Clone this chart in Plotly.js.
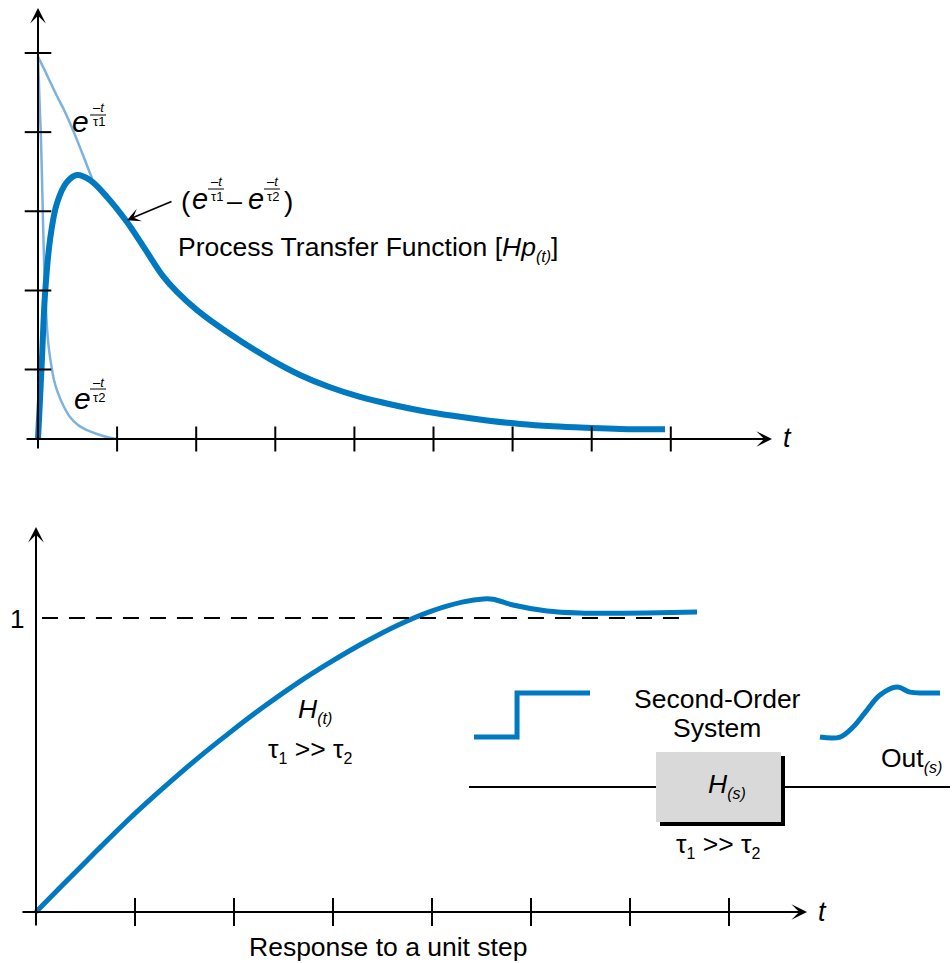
<!DOCTYPE html>
<html><head><meta charset="utf-8">
<script src="https://cdn.plot.ly/plotly-3.0.1.min.js"></script>
<style>body{margin:0;background:#fff}#chart{width:952px;height:963px}</style>
</head><body><div id="chart"></div>
<script>
// ---------- Top panel: process transfer function (x in tick units, y: top tick = 1) ----------
const hpT = [0, 0.025, 0.051, 0.088, 0.152, 0.240, 0.367, 0.493, 0.657, 0.872, 1.125, 1.378, 1.580, 1.757, 2.010, 2.427, 2.933, 3.312, 3.692, 4.071, 4.450, 4.829, 5.247, 5.676, 6.094, 6.511, 6.941, 7.358, 7.927];
const hpY = [0, 0.101, 0.212, 0.373, 0.516, 0.611, 0.666, 0.684, 0.671, 0.627, 0.562, 0.484, 0.422, 0.381, 0.334, 0.272, 0.207, 0.166, 0.134, 0.109, 0.090, 0.074, 0.060, 0.048, 0.039, 0.033, 0.029, 0.026, 0.025];
const e1T = [0, 0.076, 0.152, 0.228, 0.316, 0.405, 0.493, 0.594, 0.683];
const e1Y = [0.990, 0.959, 0.926, 0.893, 0.858, 0.818, 0.775, 0.722, 0.675];
const e2T = [0, 0.019, 0.038, 0.057, 0.076, 0.101, 0.126, 0.152, 0.202, 0.253, 0.329, 0.405, 0.506, 0.619, 0.746, 0.910, 0.999];
const e2Y = [0.990, 0.876, 0.775, 0.619, 0.463, 0.334, 0.256, 0.212, 0.153, 0.119, 0.083, 0.057, 0.036, 0.023, 0.013, 0.003, 0];
const topTicksX = [1, 2, 3, 4, 5, 6, 7, 8];
const topTicksY = [0.18, 0.385, 0.59, 0.795, 1.0];

// ---------- Bottom panel: response to a unit step ----------
const stepT = [0, 0.276, 0.613, 0.949, 1.286, 1.623, 1.960, 2.296, 2.633, 2.970, 3.306, 3.643, 3.980, 4.316, 4.518, 4.616, 4.818, 5.162, 5.495, 5.828, 6.172, 6.677];
const stepY = [0, 0.094, 0.208, 0.319, 0.422, 0.520, 0.611, 0.697, 0.777, 0.849, 0.915, 0.974, 1.022, 1.055, 1.065, 1.064, 1.044, 1.024, 1.017, 1.016, 1.017, 1.020];
const botTicksX = [1, 2, 3, 4, 5, 6, 7];
const setpoint = 1;
const inputT = [4.424, 4.859, 4.859, 5.596];
const inputY = [0.595, 0.595, 0.745, 0.745];
const outT = [7.919, 8.121, 8.253, 8.394, 8.525, 8.697, 8.828, 8.960, 9.131];
const outY = [0.595, 0.595, 0.629, 0.687, 0.738, 0.765, 0.748, 0.745, 0.745];

const BLUE = '#0079c1', LIGHT = '#7db2de';
const FONT = 'Liberation Sans, Arial, sans-serif';
const W = 952, H = 963;
const PX = x => x / W, PY = y => 1 - y / H;

const traces = [
  {x: e1T, y: e1Y, xaxis: 'x', yaxis: 'y', mode: 'lines', line: {color: LIGHT, width: 2.5, shape: 'spline', smoothing: 1}},
  {x: e2T, y: e2Y, xaxis: 'x', yaxis: 'y', mode: 'lines', line: {color: LIGHT, width: 2.5, shape: 'spline', smoothing: 1}},
  {x: hpT, y: hpY, xaxis: 'x', yaxis: 'y', mode: 'lines', line: {color: BLUE, width: 6, shape: 'spline', smoothing: 1}},
  {x: topTicksX, y: topTicksX.map(() => 0), xaxis: 'x', yaxis: 'y', mode: 'markers',
   marker: {symbol: 'line-ns', size: 18, line: {color: '#000', width: 2}}},
  {x: topTicksY.map(() => 0), y: topTicksY, xaxis: 'x', yaxis: 'y', mode: 'markers',
   marker: {symbol: 'line-ew', size: 19, line: {color: '#000', width: 2}}},
  {x: stepT, y: stepY, xaxis: 'x2', yaxis: 'y2', mode: 'lines', line: {color: BLUE, width: 5, shape: 'spline', smoothing: 1}},
  {x: botTicksX, y: botTicksX.map(() => 0), xaxis: 'x2', yaxis: 'y2', mode: 'markers',
   marker: {symbol: 'line-ns', size: 20, line: {color: '#000', width: 2}}},
  {x: inputT, y: inputY, xaxis: 'x2', yaxis: 'y2', mode: 'lines', line: {color: BLUE, width: 5}},
  {x: outT, y: outY, xaxis: 'x2', yaxis: 'y2', mode: 'lines', line: {color: BLUE, width: 5, shape: 'spline', smoothing: 1}}
];

const ax = (range, domain) => ({range: range, domain: domain, autorange: false, visible: false, fixedrange: true});

const ann = [];
function txt(text, x, y, size, extra) {
  ann.push(Object.assign({text: text, xref: 'paper', yref: 'paper', x: PX(x), y: PY(y), showarrow: false,
    font: {family: FONT, size: size, color: '#000'}, xanchor: 'center', yanchor: 'middle', borderpad: 0}, extra || {}));
}
function arrow(xr, yr, x, y, axv, ayv, width, size) {
  ann.push({text: '', xref: xr, yref: yr, axref: xr, ayref: yr, x: x, y: y, ax: axv, ay: ayv,
    showarrow: true, arrowhead: 3, arrowsize: size, arrowwidth: width, arrowcolor: '#000', standoff: 0, startstandoff: 0});
}
// axes with arrow heads
arrow('x', 'y', 9.279, 0, -0.164, 0, 2, 1.3);
arrow('x', 'y', 0, 1.1166, 0, -0.0285, 2, 1.3);
arrow('x2', 'y2', 7.788, 0, -0.152, 0, 2, 1.3);
arrow('x2', 'y2', 0, 1.3095, 0, -0.051, 2, 1.3);
// pointer arrow to the curve
arrow('x', 'y', 1.125, 0.567, 1.707, 0.617, 1.6, 1.4);

// axis letters
txt('<i>t</i>', 787, 438, 27);
txt('<i>t</i>', 822, 912, 27);
txt('1', 17, 619, 26);

const SUB = s => '<sub><span style="font-size:16px">' + s + '</span></sub>';
const shapes = [];
function frac(cx, yTop, yBar, yBot, sub, half) {
  txt('<i>–t</i>', cx, yTop, 13);
  txt('τ<span style="font-size:13px">' + sub + '</span>', cx + 1, yBot, 13);
  shapes.push({type: 'line', xref: 'paper', yref: 'paper', x0: PX(cx - half), x1: PX(cx + half), y0: PY(yBar), y1: PY(yBar), line: {color: '#000', width: 1}});
}
txt('<i>e</i>', 80, 122, 30);
frac(98, 107, 115, 122, '1', 8);
txt('<i>e</i>', 82, 398, 30);
frac(98, 382, 389, 397, '2', 8);

txt('(', 186, 201, 28);
txt('<i>e</i>', 200, 199, 29);
frac(216, 182, 189, 196, '1', 8);
txt('–', 234, 201, 27);
txt('<i>e</i>', 256, 199, 29);
frac(272, 182, 189, 196, '2', 8);
txt(')', 288, 201, 28);

txt('Process Transfer Function [<i>Hp</i>' + SUB('<i>(t)</i>') + ']', 177, 249, 26.5, {xanchor: 'left'});

// bottom labels
txt('<i>H</i>' + SUB('<i>(t)</i>'), 297, 710, 26.5, {xanchor: 'left'});
txt('τ' + SUB('1') + ' >> τ' + SUB('2'), 310, 750, 26.5);
txt('Response to a unit step', 388, 947, 26.5);

// block diagram
shapes.push({type: 'line', xref: 'paper', yref: 'paper', x0: PX(469), x1: PX(656), y0: PY(787), y1: PY(787), line: {color: '#000', width: 2}});
shapes.push({type: 'line', xref: 'paper', yref: 'paper', x0: PX(784), x1: PX(950), y0: PY(787), y1: PY(787), line: {color: '#000', width: 2}});
shapes.push({type: 'rect', xref: 'paper', yref: 'paper', x0: PX(660), x1: PX(785), y0: PY(826), y1: PY(756), fillcolor: '#000', line: {width: 0}});
shapes.push({type: 'rect', xref: 'paper', yref: 'paper', x0: PX(656), x1: PX(781), y0: PY(822), y1: PY(752), fillcolor: '#d9d9d9', line: {width: 0}});
// setpoint dashed line
shapes.push({type: 'line', xref: 'x2', yref: 'y2', x0: 0.06, x1: 6.505, y0: setpoint, y1: setpoint, line: {color: '#000', width: 2, dash: '16px,11px'}});

txt('Second-Order', 717, 699, 26.5);
txt('System', 717, 728, 26.5);
txt('<i>H</i>' + SUB('<i>(s)</i>'), 707, 785, 26.5, {xanchor: 'left'});
txt('τ' + SUB('1') + ' >> τ' + SUB('2'), 718, 845, 26.5);
txt('Out' + SUB('<i>(s)</i>'), 880, 759, 26.5, {xanchor: 'left'});

const layout = {
  width: W, height: H, margin: {l: 0, r: 0, t: 0, b: 0, pad: 0},
  paper_bgcolor: '#fff', plot_bgcolor: 'rgba(0,0,0,0)', showlegend: false,
  xaxis: ax([-0.4804, 11.555], [0, 1]),
  yaxis: ax([-0.1101, 1.1373], [0.5, 1]),
  xaxis2: ax([-0.3636, 9.2525], [0, 1]),
  yaxis2: ax([-0.1735, 1.4643], [0, 0.5]),
  annotations: ann, shapes: shapes,
  font: {family: FONT}
};
Plotly.newPlot('chart', traces, layout, {displayModeBar: false, staticPlot: true});
</script></body></html>
